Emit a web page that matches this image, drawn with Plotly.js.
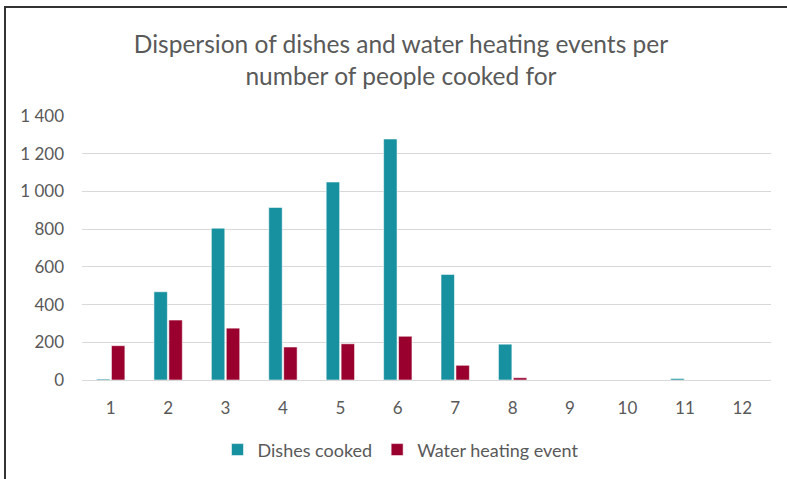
<!DOCTYPE html>
<html>
<head>
<meta charset="utf-8">
<script src="https://cdn.plot.ly/plotly-3.0.1.min.js"></script>
<style>
  html, body { margin: 0; padding: 0; background: #fff; }
  #wrap { position: relative; width: 787px; height: 479px; overflow: hidden; }
  #frame { position: absolute; left: 4px; top: 6px; width: 900px; height: 600px;
           border-top: 2px solid #333; border-left: 2px solid #333; pointer-events: none; z-index: 5; }
  #chart { position: absolute; left: 0; top: 0; width: 787px; height: 479px; }
</style>
</head>
<body>
<div id="wrap">
  <div id="chart"></div>
  <div id="frame"></div>
</div>
<script>
const categories = ['1', '2', '3', '4', '5', '6', '7', '8', '9', '10', '11', '12'];
const dishesCooked = [5, 468, 805, 915, 1050, 1278, 560, 190, 0, 0, 8, 0];
const waterHeating = [182, 318, 275, 175, 192, 232, 78, 12, 0, 0, 0, 0];
const seriesNames = ['Dishes cooked', 'Water heating event'];
const yTicks = [0, 200, 400, 600, 800, 1000, 1200, 1400];
const titleText = 'Dispersion of dishes and water heating events per<br>number of people cooked for';

const FONT = 'Lato, Carlito, Calibri, "Open Sans", sans-serif';
const TXT = '#595959';

const traces = [
  { type: 'bar', name: seriesNames[0], x: categories, y: dishesCooked,
    marker: { color: '#17909F', line: { color: 'rgba(255,255,255,0.55)', width: 1 } },
    hoverinfo: 'x+y' },
  { type: 'bar', name: seriesNames[1], x: categories, y: waterHeating,
    marker: { color: '#99002E', line: { color: 'rgba(255,255,255,0.55)', width: 1 } },
    hoverinfo: 'x+y' }
];

const layout = {
  width: 787, height: 479,
  margin: { l: 82, r: 16, t: 116, b: 98 },
  paper_bgcolor: '#ffffff', plot_bgcolor: '#ffffff',
  separators: ', ',
  font: { family: FONT, color: TXT, size: 17 },
  title: { text: titleText, font: { family: FONT, size: 24.5, color: TXT },
           x: 0.5095, xref: 'container', xanchor: 'center', y: 0.89, yref: 'container', yanchor: 'middle' },
  barmode: 'group', bargap: 0.48, bargroupgap: 0.1,
  xaxis: { type: 'category', tickfont: { size: 17, color: TXT }, showgrid: false,
           showline: true, linecolor: '#D9D9D9', linewidth: 1, ticks: '', ticklabelstandoff: 13 },
  yaxis: { range: [0, 1400], tickvals: yTicks, tickformat: ',d', showgrid: true, gridcolor: '#D9D9D9',
           gridwidth: 1, zeroline: true, zerolinecolor: '#D9D9D9', zerolinewidth: 1,
           showline: false, ticks: '', tickfont: { size: 17, color: TXT }, ticklabelstandoff: 17 },
  showlegend: true,
  legend: { orientation: 'h', x: 0.463, xanchor: 'center', y: -0.26, yanchor: 'middle',
            font: { size: 18, color: TXT }, traceorder: 'normal', itemwidth: 30 }
};

Plotly.newPlot('chart', traces, layout, { displayModeBar: false, staticPlot: true });
</script>
</body>
</html>
